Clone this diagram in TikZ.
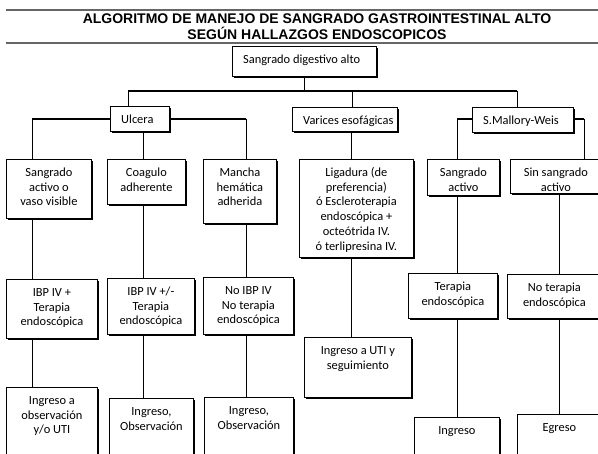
\documentclass[tikz,border=0pt]{standalone}
\usepackage{fontspec}
\setmainfont{Carlito}
\newfontfamily\headfont{Liberation Sans}
\usetikzlibrary{shadows}

\tikzset{
  fbox/.style={draw, line width=0.8pt, fill=white, inner sep=0pt,
    drop shadow={shadow xshift=1.2pt, shadow yshift=-1.2pt, fill=black, opacity=1}},
  ftext/.style={font=\fontsize{12.4}{14.8}\selectfont, align=center, inner sep=0pt},
  link/.style={line width=1pt},
  mainbar/.style={line width=1.3pt},
  branch/.style={line width=1.8pt},
  rule/.style={line width=1.3pt, draw=black!60},
  head/.style={font=\headfont\bfseries\fontsize{14}{15.5}\selectfont, align=center, inner sep=0pt}
}

% box with centred text: name, x1, y1, x2, y2, text
\newcommand\cbox[6]{%
  \node[fbox, anchor=north west, minimum width={(#4-#2)*1pt}, minimum height={(#5-#3)*1pt}] (#1) at (#2,#3) {};
  \node[ftext, anchor=north] (#1-t) at ([yshift=-6.7pt]#1.north) {\strut #6};}
% box with left-aligned text
\newcommand\lbox[6]{%
  \node[fbox, anchor=north west, minimum width={(#4-#2)*1pt}, minimum height={(#5-#3)*1pt}] (#1) at (#2,#3) {};
  \node[ftext, align=left, anchor=north west] (#1-t) at ([xshift=11pt,yshift=-6.7pt]#1.north west) {\strut #6};}

\begin{document}
\begin{tikzpicture}[x=1pt,y=-1pt]
\useasboundingbox (0,0) rectangle (598,454);
\clip (0,0) rectangle (598,454);

% heading
\draw[rule] (6,10) -- (598,10);
\draw[rule] (6,43) -- (598,43);
\node[head] (title) at (317,26.5) {ALGORITMO DE MANEJO DE SANGRADO GASTROINTESTINAL ALTO\\SEGÚN HALLAZGOS ENDOSCOPICOS};

% level 1
\lbox{root}{232}{46}{376}{76}{Sangrado digestivo alto}

% level 2
\lbox{ulc}{110}{106}{169}{131}{Ulcera}
\lbox{var}{292}{107}{397}{131}{Varices esofágicas}
\lbox{mw}{472}{107}{573}{132}{S.Mallory-Weis}

% level 3
\cbox{s1}{6}{159}{91}{218}{Sangrado\\activo o\\vaso visible}
\cbox{s2}{107}{159}{185}{204}{Coagulo\\adherente}
\cbox{s3}{203}{159}{276}{223}{Mancha\\hemática\\adherida}
\cbox{lig}{299}{159}{413}{257}{Ligadura (de\\preferencia)\\ó Escleroterapia\\endoscópica +\\octeótrida IV.\\ó terlipresina IV.}
\cbox{sa}{427}{159}{499}{195}{Sangrado\\activo}
\cbox{ss}{510}{159}{601}{193}{Sin sangrado\\activo}

% level 4
\cbox{l4a}{6}{279}{97}{338}{IBP IV +\\Terapia\\endoscópica}
\cbox{l4b}{107}{278}{194}{334}{IBP IV +/-\\Terapia\\endoscópica}
\cbox{l4c}{203}{277}{293}{334}{No IBP IV\\No terapia\\endoscópica}
\cbox{uti}{304}{337}{411}{397}{Ingreso a UTI y\\seguimiento}
\cbox{ter}{408}{273}{497}{318}{Terapia\\endoscópica}
\cbox{noter}{507}{274}{601}{318}{No terapia\\endoscópica}

% level 5
\cbox{l5a}{6}{387}{97}{470}{Ingreso a\\observación\\y/o UTI}
\cbox{l5b}{109}{398}{193}{470}{Ingreso,\\Observación}
\cbox{l5c}{204}{397}{293}{470}{Ingreso,\\Observación}
\cbox{ing}{414}{417}{499}{470}{Ingreso}
\cbox{egr}{517}{414}{601}{470}{Egreso}

% junctions
\coordinate (j0) at (304,91);
\coordinate (bl) at (128,91);
\coordinate (bm) at (352,91);
\coordinate (br) at (517,91);
\coordinate (cA) at (32,119);
\coordinate (cB) at (143,0);
\coordinate (cC) at (246,119);
\coordinate (cD) at (351,0);
\coordinate (cE) at (457,119);
\coordinate (cF) at (559,0);
\coordinate (cG) at (584,119);

% root to level 2
\draw[link] (root.south -| j0) -- (j0);
\draw[mainbar] (bl) -- (br);
\draw[link] (bl) -- (ulc.north -| bl);
\draw[link] (bm) -- (var.north -| bm);
\draw[link] (br) -- (mw.north -| br);

% ulcera branch
\draw[branch] (ulc.west |- cA) -- (cA);
\draw[link] (cA) -- (s1.north -| cA);
\draw[link] (ulc.south -| cB) -- (s2.north -| cB);
\draw[branch] (ulc.east |- cC) -- (cC);
\draw[link] (cC) -- (s3.north -| cC);
\draw[link] (s1.south -| cA) -- (l4a.north -| cA);
\draw[link] (l4a.south -| cA) -- (l5a.north -| cA);
\draw[link] (s2.south -| cB) -- (l4b.north -| cB);
\draw[link] (l4b.south -| cB) -- (l5b.north -| cB);
\draw[link] (s3.south -| cC) -- (l4c.north -| cC);
\draw[link] (l4c.south -| cC) -- (l5c.north -| cC);

% varices branch
\draw[link] (var.south -| cD) -- (lig.north -| cD);
\draw[link] (lig.south -| cD) -- (uti.north -| cD);

% Mallory-Weiss branch
\draw[branch] (mw.west |- cE) -- (cE);
\draw[link] (cE) -- (sa.north -| cE);
\draw[branch] (mw.east |- cG) -- (cG);
\draw[link] (cG) -- (ss.north -| cG);
\draw[link] (sa.south -| cE) -- (ter.north -| cE);
\draw[link] (ter.south -| cE) -- (ing.north -| cE);
\draw[link] (ss.south -| cF) -- (noter.north -| cF);
\draw[link] (noter.south -| cF) -- (egr.north -| cF);
\end{tikzpicture}
\end{document}
